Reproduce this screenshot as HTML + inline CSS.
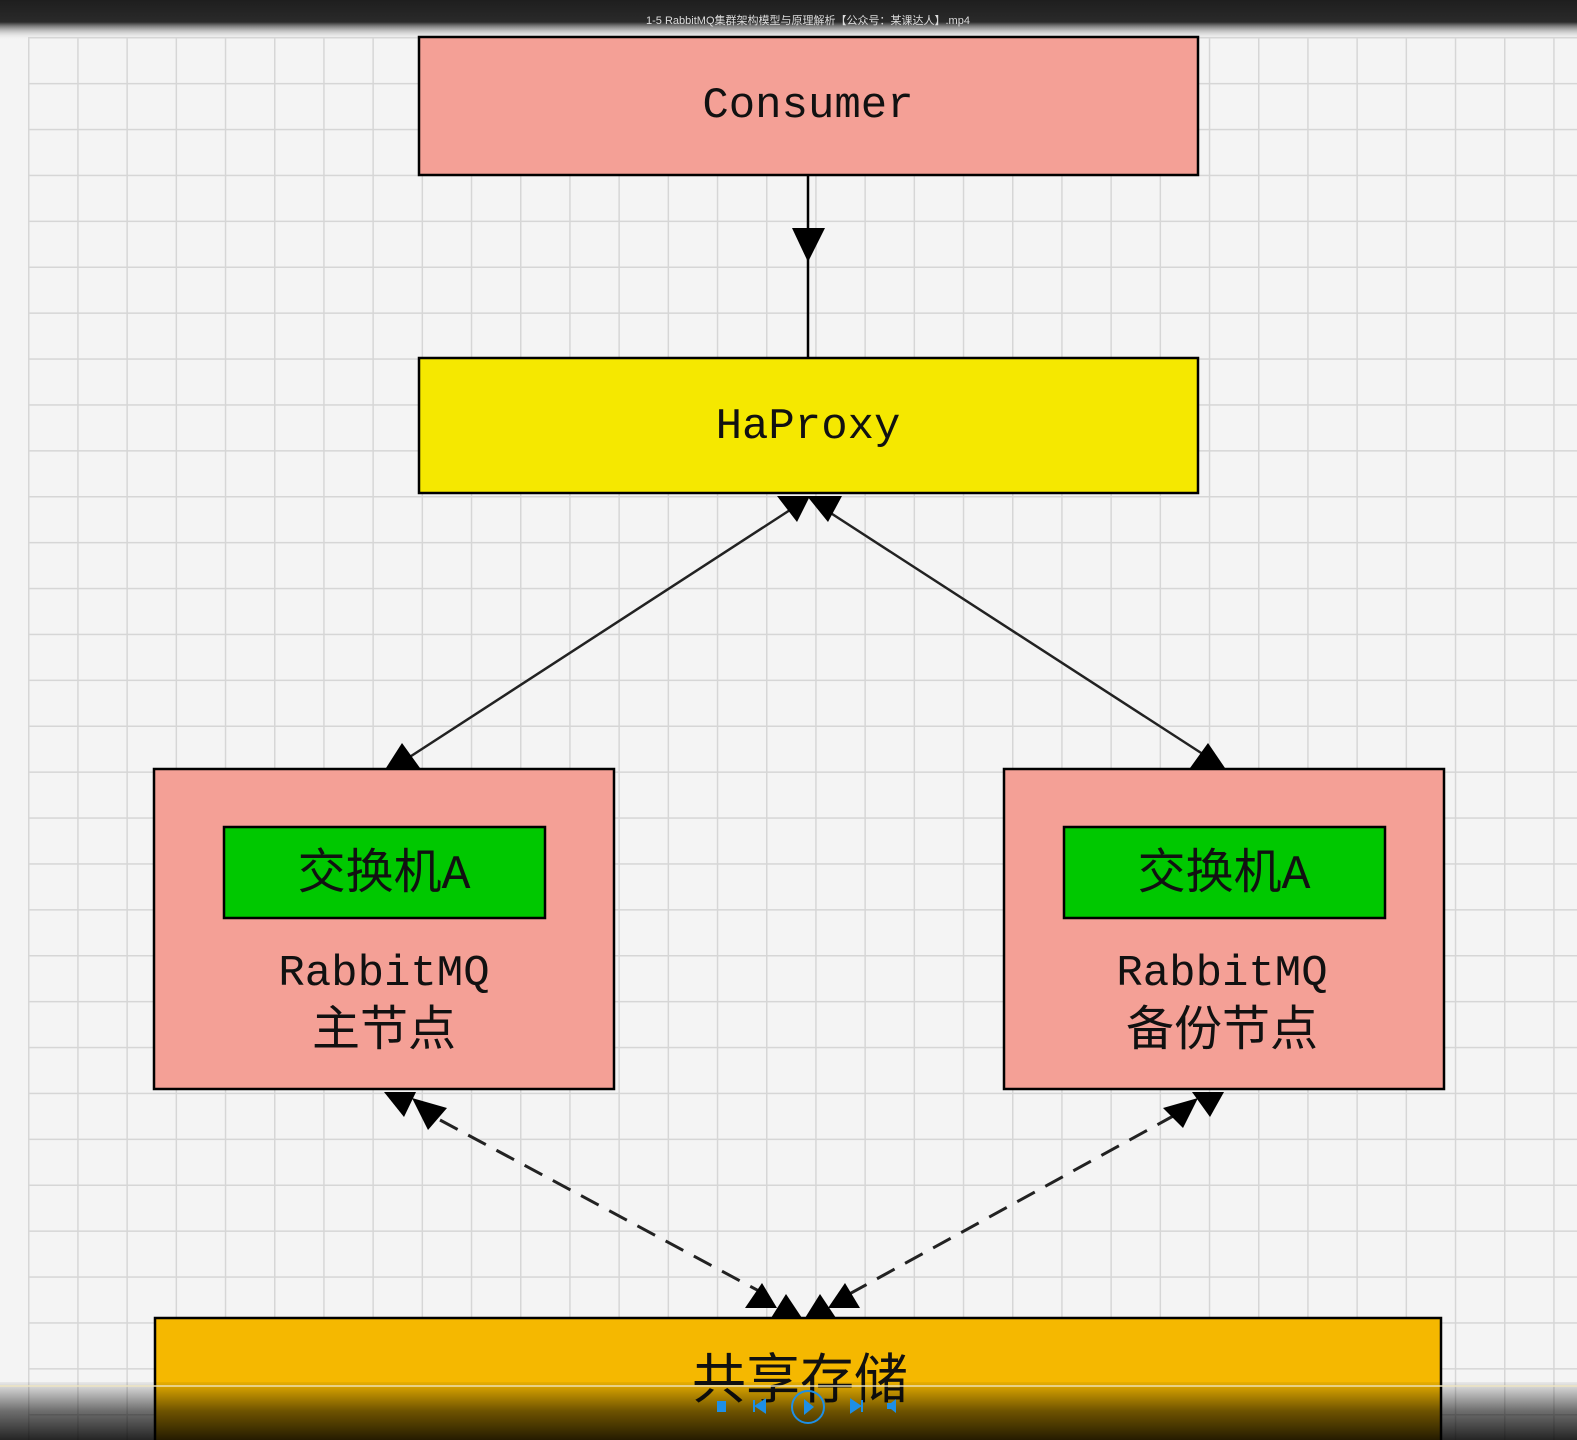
<!DOCTYPE html>
<html><head><meta charset="utf-8"><style>
html,body{margin:0;padding:0;width:1577px;height:1440px;overflow:hidden;background:#f4f4f4}
</style></head><body>
<svg width="1577" height="1440" viewBox="0 0 1577 1440" xmlns="http://www.w3.org/2000/svg">
<defs>
<pattern id="g" x="28" y="37" width="49.2" height="45.9" patternUnits="userSpaceOnUse">
<path d="M0 0H49.2M0 0V45.9" stroke="#d6d6d6" stroke-width="3" fill="none"/>
</pattern>
<linearGradient id="top" x1="0" y1="0" x2="0" y2="1"><stop offset="0" stop-color="#1e1e1e"/><stop offset="0.55" stop-color="#2a2a2a"/><stop offset="1" stop-color="#f4f4f4" stop-opacity="0"/></linearGradient>
<linearGradient id="bot" x1="0" y1="0" x2="0" y2="1"><stop offset="0" stop-color="#000" stop-opacity="0.05"/><stop offset="0.5" stop-color="#000" stop-opacity="0.55"/><stop offset="1" stop-color="#000" stop-opacity="0.85"/></linearGradient>
</defs>
<rect width="1577" height="1440" fill="#f4f4f4"/>
<rect x="28" y="37" width="1549" height="1403" fill="url(#g)"/>
<rect x="0" y="0" width="1577" height="40" fill="url(#top)"/>
<text x="808" y="24" font-family="Liberation Sans, Noto Sans CJK SC, sans-serif" font-size="11" fill="#ddd" text-anchor="middle">1-5 RabbitMQ集群架构模型与原理解析【公众号：某课达人】.mp4</text>

<g font-family="Liberation Mono, Noto Sans CJK SC, monospace" fill="#111" text-anchor="middle">
<rect x="419" y="37" width="779" height="138" fill="#f4a096" stroke="#000" stroke-width="2.5"/>
<text x="808" y="117" font-size="44">Consumer</text>
<line x1="808" y1="175" x2="808" y2="357" stroke="#000" stroke-width="2.5"/>
<polygon points="792,228 825,228 808,262" fill="#000"/>
<rect x="419" y="358" width="779" height="135" fill="#f5e800" stroke="#000" stroke-width="2.5"/>
<text x="808" y="438" font-size="44">HaProxy</text>

<line x1="790" y1="510" x2="405" y2="760" stroke="#222" stroke-width="2.5"/>
<line x1="826" y1="510" x2="1212" y2="760" stroke="#222" stroke-width="2.5"/>
<polygon points="777,496 810,496 797,522" fill="#000"/>
<polygon points="807,496 842,496 828,522" fill="#000"/>
<polygon points="386,768 420,768 402,743" fill="#000"/>
<polygon points="1190,768 1225,768 1208,743" fill="#000"/>

<rect x="154" y="769" width="460" height="320" fill="#f4a096" stroke="#000" stroke-width="2.5"/>
<rect x="224" y="827" width="321" height="91" fill="#00c800" stroke="#000" stroke-width="2.5"/>
<text x="384" y="888" font-size="48">交换机A</text>
<text x="384" y="985" font-size="44">RabbitMQ</text>
<text x="384" y="1045" font-size="48">主节点</text>

<rect x="1004" y="769" width="440" height="320" fill="#f4a096" stroke="#000" stroke-width="2.5"/>
<rect x="1064" y="827" width="321" height="91" fill="#00c800" stroke="#000" stroke-width="2.5"/>
<text x="1224" y="888" font-size="48">交换机A</text>
<text x="1222" y="985" font-size="44">RabbitMQ</text>
<text x="1222" y="1045" font-size="48">备份节点</text>

<line x1="440" y1="1120" x2="772" y2="1298" stroke="#222" stroke-width="3" stroke-dasharray="20,12"/>
<line x1="1175" y1="1115" x2="842" y2="1298" stroke="#222" stroke-width="3" stroke-dasharray="20,12"/>
<polygon points="384,1092 416,1092 404,1117" fill="#000"/>
<polygon points="412,1098 447,1108 428,1130" fill="#000"/>
<polygon points="1192,1092 1224,1092 1210,1117" fill="#000"/>
<polygon points="1163,1108 1198,1098 1183,1128" fill="#000"/>
<polygon points="745,1308 777,1308 762,1283" fill="#000"/>
<polygon points="771,1318 802,1318 786,1294" fill="#000"/>
<polygon points="805,1318 836,1318 820,1294" fill="#000"/>
<polygon points="828,1308 860,1308 845,1283" fill="#000"/>

<rect x="155" y="1318" width="1286" height="140" fill="#f5b800" stroke="#000" stroke-width="2.5"/>
<text x="800" y="1398" font-size="54">共享存储</text>
</g>

<rect x="0" y="1382" width="1577" height="58" fill="url(#bot)"/>
<line x1="0" y1="1386" x2="1577" y2="1386" stroke="#f0e6c0" stroke-width="2" opacity="0.7"/>
<rect x="717" y="1401" width="9" height="11" fill="#1e8fe6"/>
<path d="M754 1400v12M765 1400l-9 6 9 6z" fill="#1e8fe6" stroke="#1e8fe6" stroke-width="2"/>
<circle cx="808" cy="1407" r="16" fill="none" stroke="#1e8fe6" stroke-width="2"/>
<path d="M804 1399l10 8-10 8z" fill="#1e8fe6"/>
<path d="M851 1400l9 6-9 6zM862 1400v12" fill="#1e8fe6" stroke="#1e8fe6" stroke-width="2"/>
<path d="M887 1403h4l5-4v14l-5-4h-4z" fill="#1e8fe6"/>
</svg>
</body></html>
